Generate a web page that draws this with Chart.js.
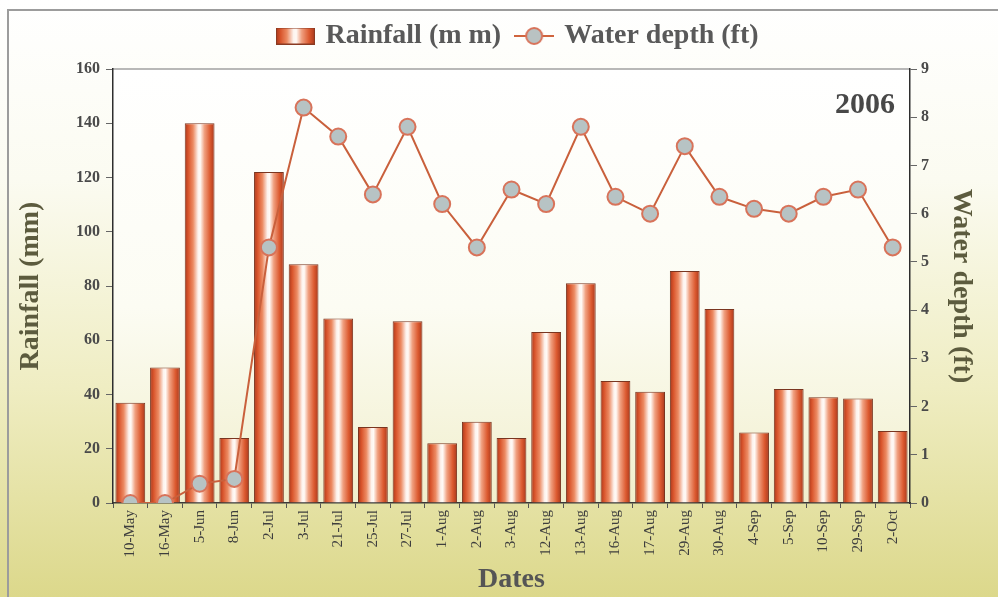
<!DOCTYPE html>
<html>
<head>
<meta charset="utf-8">
<script src="https://cdn.jsdelivr.net/npm/chart.js@4.4.0/dist/chart.umd.min.js"></script>
<style>
  html, body { margin: 0; padding: 0; background: #ffffff; }
  #wrap { width: 998px; height: 597px; }
</style>
</head>
<body>
<div id="wrap"><canvas id="c" width="998" height="597"></canvas></div>
<script>
// Sampling dates (2006)
const dates = ['10-May', '16-May', '5-Jun', '8-Jun', '2-Jul', '3-Jul', '21-Jul', '25-Jul', '27-Jul',
  '1-Aug', '2-Aug', '3-Aug', '12-Aug', '13-Aug', '16-Aug', '17-Aug', '29-Aug', '30-Aug',
  '4-Sep', '5-Sep', '10-Sep', '29-Sep', '2-Oct'];

// Rainfall per date (mm)
const rainfall = [37, 50, 140, 24, 122, 88, 68, 28, 67, 22, 30, 24, 63, 81, 45, 41, 85.5, 71.5, 26, 42, 39, 38.5, 26.5];

// Water depth per date (ft)
const waterDepth = [0, 0, 0.4, 0.5, 5.3, 8.2, 7.6, 6.4, 7.8, 6.2, 5.3, 6.5, 6.2, 7.8, 6.35, 6.0, 7.4, 6.35, 6.1, 6.0, 6.35, 6.5, 5.3];

// Axis ranges and tick steps
const rainTicks = { min: 0, max: 160, step: 20 };
const depthTicks = { min: 0, max: 9, step: 1 };

const yearLabel = '2006';
const serif = "'Liberation Serif', 'DejaVu Serif', serif";
const BAR_FRACTION = 0.86;
const LEGEND_HEIGHT = 64;
const LEGEND_SHIFT = 23;

// Cylinder-like horizontal shading for a bar spanning x0..x1
function cylinderGradient(ctx, x0, x1) {
  const g = ctx.createLinearGradient(x0, 0, x1, 0);
  g.addColorStop(0.00, '#a8381c');
  g.addColorStop(0.12, '#d9552c');
  g.addColorStop(0.28, '#ec8a62');
  g.addColorStop(0.45, '#fdf3ee');
  g.addColorStop(0.52, '#fffaf6');
  g.addColorStop(0.66, '#f0a080');
  g.addColorStop(0.85, '#dc5a30');
  g.addColorStop(1.00, '#a8381c');
  return g;
}

// Legend icons
function barIcon() {
  const cv = document.createElement('canvas');
  cv.width = 39; cv.height = 17;
  const c = cv.getContext('2d');
  c.fillStyle = cylinderGradient(c, 0, 39);
  c.fillRect(0, 0, 39, 17);
  c.strokeStyle = '#8a3a22';
  c.lineWidth = 1;
  c.strokeRect(0.5, 0.5, 38, 16);
  return cv;
}
function lineIcon() {
  const cv = document.createElement('canvas');
  cv.width = 40; cv.height = 20;
  const c = cv.getContext('2d');
  c.strokeStyle = '#d0643e';
  c.lineWidth = 2;
  c.beginPath(); c.moveTo(0, 10); c.lineTo(40, 10); c.stroke();
  c.beginPath(); c.arc(20, 10, 8, 0, Math.PI * 2);
  c.fillStyle = '#b9c2c2'; c.fill();
  c.lineWidth = 2; c.strokeStyle = '#d8735a'; c.stroke();
  return cv;
}

// Page background, frame, plot-area shading, year stamp and legend placement
const backdrop = {
  id: 'backdrop',
  afterInit(chart) {
    const legend = chart.legend;
    if (legend && !legend._tallFit) {
      const fit = legend.fit;
      legend.fit = function () { fit.call(this); this.height = LEGEND_HEIGHT; };
      legend._tallFit = true;
    }
  },
  afterLayout(chart) {
    if (chart.legend) {
      chart.legend.left += LEGEND_SHIFT;
      chart.legend.right += LEGEND_SHIFT;
    }
  },
  beforeDraw(chart) {
    const { ctx, width, height, chartArea: a } = chart;
    ctx.save();
    const g = ctx.createLinearGradient(0, 0, 0, height);
    g.addColorStop(0.00, '#ffffff');
    g.addColorStop(0.30, '#fbfbf1');
    g.addColorStop(0.65, '#efedc2');
    g.addColorStop(1.00, '#dcd88b');
    ctx.fillStyle = g;
    ctx.fillRect(0, 0, width, height);
    ctx.strokeStyle = '#9c9c9c';
    ctx.lineWidth = 2;
    ctx.strokeRect(8, 10, width + 20, height + 20);
    const pg = ctx.createLinearGradient(0, a.top, 0, a.bottom);
    pg.addColorStop(0.00, '#ffffff');
    pg.addColorStop(0.55, '#fcfcf3');
    pg.addColorStop(1.00, '#f1efcd');
    ctx.fillStyle = pg;
    ctx.fillRect(a.left, a.top, a.right - a.left, a.bottom - a.top);
    ctx.strokeStyle = '#a0a0a0';
    ctx.lineWidth = 1.5;
    ctx.beginPath(); ctx.moveTo(a.left, a.top); ctx.lineTo(a.right, a.top); ctx.stroke();
    ctx.restore();
  },
  afterDraw(chart) {
    const { ctx, chartArea: a } = chart;
    ctx.save();
    ctx.font = "bold 30px " + serif;
    ctx.fillStyle = '#484848';
    ctx.textAlign = 'right';
    ctx.textBaseline = 'alphabetic';
    ctx.fillText(yearLabel, a.right - 15, a.top + 44);
    ctx.restore();
  }
};

const chart = new Chart(document.getElementById('c'), {
  data: {
    labels: dates,
    datasets: [
      {
        type: 'bar',
        label: 'Rainfall (m m)',
        data: rainfall,
        yAxisID: 'yRain',
        order: 2,
        categoryPercentage: 1.0,
        barPercentage: BAR_FRACTION,
        borderColor: '#7a3520',
        borderWidth: 1,
        backgroundColor: (ctx) => {
          const xs = ctx.chart.scales.x;
          if (!xs || ctx.type !== 'data') return '#e06a3a';
          const cx = xs.getPixelForValue(ctx.dataIndex);
          const w = xs.width / dates.length * BAR_FRACTION;
          return cylinderGradient(ctx.chart.ctx, cx - w / 2, cx + w / 2);
        }
      },
      {
        type: 'line',
        label: 'Water depth (ft)',
        data: waterDepth,
        yAxisID: 'yDepth',
        order: 1,
        borderColor: '#c9603c',
        borderWidth: 2,
        pointRadius: 8,
        pointHoverRadius: 8,
        pointBackgroundColor: '#b7c3c4',
        pointBorderColor: '#d8735a',
        pointBorderWidth: 2,
        tension: 0
      }
    ]
  },
  options: {
    responsive: false,
    animation: false,
    layout: { padding: { left: 12, right: 18, top: 5, bottom: 0 } },
    plugins: {
      tooltip: { enabled: false },
      legend: {
        position: 'top',
        labels: {
          usePointStyle: true,
          pointStyleWidth: 32,
          padding: 17,
          color: '#595959',
          font: { family: serif, size: 28, weight: 'bold' },
          generateLabels: () => [
            { text: 'Rainfall (m m)', pointStyle: barIcon(), datasetIndex: 0, fontColor: '#595959', hidden: false, lineWidth: 0 },
            { text: 'Water depth (ft)', pointStyle: lineIcon(), datasetIndex: 1, fontColor: '#595959', hidden: false, lineWidth: 0 }
          ]
        }
      }
    },
    scales: {
      x: {
        type: 'category',
        offset: true,
        afterFit: (s) => { s.height = 94; },
        grid: { display: true, drawOnChartArea: false, drawTicks: true, tickLength: 5, color: '#555', offset: true },
        border: { display: true, color: '#3a3a3a', width: 1.5 },
        ticks: {
          minRotation: 90, maxRotation: 90, autoSkip: false, padding: 2,
          color: '#3e3e3e',
          font: { family: serif, size: 15 }
        },
        title: {
          display: true, text: 'Dates', color: '#555555',
          font: { family: serif, size: 28, weight: 'bold' },
          padding: { top: 0, bottom: 0 }
        }
      },
      yRain: {
        type: 'linear',
        position: 'left',
        min: rainTicks.min, max: rainTicks.max,
        afterFit: (s) => { s.width = 101; },
        grid: { display: true, drawOnChartArea: false, drawTicks: true, tickLength: 7, color: '#666' },
        border: { display: true, color: '#2e2e2e', width: 1.5 },
        ticks: {
          stepSize: rainTicks.step, padding: 6,
          color: '#4a4a4a',
          font: { family: serif, size: 16, weight: 'bold' }
        },
        title: {
          display: true, text: 'Rainfall (mm)', color: '#5c5b3e',
          font: { family: serif, size: 28, weight: 'bold' },
          padding: { top: 2, bottom: 0 }
        }
      },
      yDepth: {
        type: 'linear',
        position: 'right',
        min: depthTicks.min, max: depthTicks.max,
        afterFit: (s) => { s.width = 70; },
        grid: { display: true, drawOnChartArea: false, drawTicks: true, tickLength: 7, color: '#666' },
        border: { display: true, color: '#2e2e2e', width: 1.5 },
        ticks: {
          stepSize: depthTicks.step, padding: 4,
          color: '#4a4a4a',
          font: { family: serif, size: 16, weight: 'bold' }
        },
        title: {
          display: true, text: 'Water depth (ft)', color: '#5c5b3e',
          font: { family: serif, size: 28, weight: 'bold' },
          padding: { top: 2, bottom: 0 }
        }
      }
    }
  },
  plugins: [backdrop]
});
</script>
</body>
</html>
